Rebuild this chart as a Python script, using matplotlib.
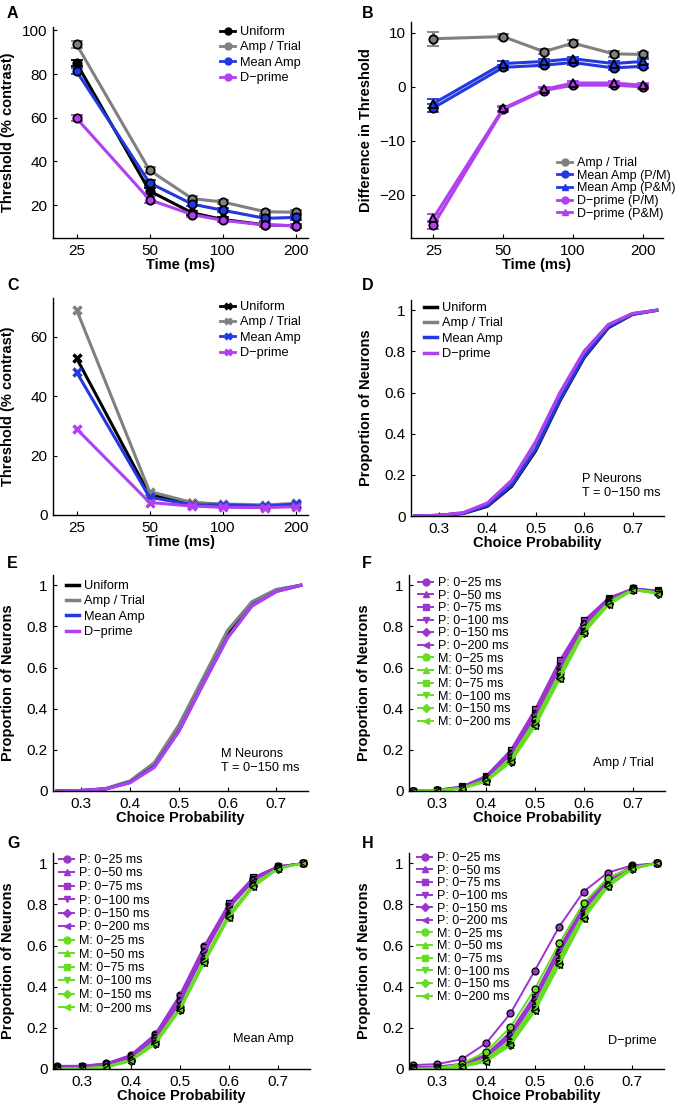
import numpy as np
import matplotlib
matplotlib.use('Agg')
import matplotlib.pyplot as plt
from matplotlib.lines import Line2D
from matplotlib.ticker import FuncFormatter, NullLocator

plt.rcParams['font.family'] = ['Liberation Sans', 'DejaVu Sans']
plt.rcParams['xtick.direction'] = 'in'
plt.rcParams['ytick.direction'] = 'in'
plt.rcParams['axes.linewidth'] = 1.0

# ---- data ----
times = [25, 50, 75, 100, 150, 200]
time_ticks = [25, 50, 100, 200]
methods = ['Uniform', 'Amp / Trial', 'Mean Amp', 'D\u2212prime']

# A: threshold (% contrast), error bars
thr_uniform = [85.0, 26.5, 16.5, 13.5, 11.0, 10.6]
thr_amp_trial = [93.6, 36.0, 23.0, 21.5, 17.0, 16.8]
thr_mean_amp = [81.3, 30.2, 20.5, 17.7, 14.0, 14.4]
thr_dprime = [59.8, 22.5, 15.7, 13.1, 10.9, 10.6]
thr_err = [1.5, 1.5, 1.0, 1.0, 1.0, 1.0]

# B: difference in threshold
diff_amp_trial = [8.9, 9.3, 6.5, 8.1, 6.1, 6.0]
diff_amp_trial_err = [1.3, 0.5, 0.5, 0.5, 0.5, 0.5]
diff_mean_pm = [-3.9, 3.6, 4.0, 4.5, 3.5, 3.8]
diff_mean_pandm = [-3.1, 4.3, 4.7, 5.2, 4.3, 4.7]
diff_dprime_pm = [-25.6, -4.2, -0.7, 0.3, 0.3, 0.0]
diff_dprime_pandm = [-24.3, -4.0, -0.5, 0.7, 0.7, 0.3]
diff_err = [0.8, 0.4, 0.4, 0.4, 0.4, 0.4]
b_labels = ['Amp / Trial', 'Mean Amp (P/M)', 'Mean Amp (P&M)',
            'D\u2212prime (P/M)', 'D\u2212prime (P&M)']

# C: threshold, second model
c_uniform = [52.8, 6.7, 4.2, 3.4, 3.0, 3.4]
c_amp_trial = [69.1, 7.9, 4.2, 3.7, 3.4, 3.9]
c_mean_amp = [48.1, 6.0, 3.4, 3.4, 3.0, 3.6]
c_dprime = [29.0, 4.2, 3.0, 2.6, 2.5, 2.8]

# D / E: cumulative choice probability
cp = [0.25, 0.30, 0.35, 0.40, 0.45, 0.50, 0.55, 0.60, 0.65, 0.70, 0.75]
d_uniform = [0, 0.003, 0.012, 0.047, 0.144, 0.318, 0.56, 0.77, 0.915, 0.98, 1.0]
d_amp_trial = [0, 0.003, 0.015, 0.06, 0.17, 0.355, 0.595, 0.80, 0.93, 0.984, 1.0]
d_mean_amp = [0, 0.003, 0.013, 0.05, 0.15, 0.325, 0.565, 0.775, 0.918, 0.981, 1.0]
d_dprime = [0, 0.003, 0.016, 0.063, 0.173, 0.362, 0.60, 0.80, 0.93, 0.984, 1.0]

e_uniform = [0, 0.002, 0.01, 0.045, 0.13, 0.305, 0.54, 0.765, 0.91, 0.975, 1.0]
e_amp_trial = [0, 0.002, 0.012, 0.049, 0.138, 0.32, 0.55, 0.78, 0.92, 0.98, 1.0]
e_mean_amp = [0, 0.002, 0.01, 0.042, 0.12, 0.29, 0.52, 0.745, 0.90, 0.97, 1.0]
e_dprime = [0, 0.002, 0.01, 0.04, 0.115, 0.29, 0.52, 0.745, 0.90, 0.97, 1.0]

# F-H: per time window, P and M neurons
windows = ['0\u221225', '0\u221250', '0\u221275', '0\u2212100', '0\u2212150', '0\u2212200']

f_p = [
    [0, 0.005, 0.02, 0.07, 0.18, 0.37, 0.60, 0.81, 0.93, 0.985, 0.97],
    [0, 0.005, 0.02, 0.07, 0.19, 0.39, 0.62, 0.82, 0.935, 0.985, 0.97],
    [0, 0.006, 0.022, 0.075, 0.20, 0.40, 0.635, 0.83, 0.94, 0.985, 0.975],
    [0, 0.005, 0.02, 0.068, 0.185, 0.38, 0.61, 0.815, 0.932, 0.985, 0.97],
    [0, 0.005, 0.018, 0.065, 0.18, 0.37, 0.60, 0.81, 0.93, 0.983, 0.965],
    [0, 0.004, 0.018, 0.063, 0.175, 0.36, 0.595, 0.80, 0.928, 0.983, 0.965],
]
f_m = [
    [0, 0.003, 0.015, 0.055, 0.16, 0.345, 0.575, 0.79, 0.92, 0.98, 0.965],
    [0, 0.003, 0.014, 0.052, 0.155, 0.335, 0.565, 0.785, 0.918, 0.98, 0.965],
    [0, 0.003, 0.014, 0.05, 0.15, 0.33, 0.56, 0.78, 0.915, 0.978, 0.965],
    [0, 0.002, 0.012, 0.048, 0.145, 0.325, 0.555, 0.775, 0.912, 0.978, 0.96],
    [0, 0.002, 0.012, 0.047, 0.142, 0.32, 0.55, 0.77, 0.91, 0.978, 0.96],
    [0, 0.002, 0.011, 0.045, 0.14, 0.315, 0.545, 0.77, 0.905, 0.976, 0.96],
]
g_p = [
    [0.015, 0.016, 0.027, 0.068, 0.17, 0.36, 0.60, 0.80, 0.93, 0.985, 1.0],
    [0.012, 0.014, 0.025, 0.065, 0.165, 0.35, 0.59, 0.80, 0.93, 0.985, 1.0],
    [0.012, 0.014, 0.025, 0.065, 0.165, 0.355, 0.595, 0.805, 0.932, 0.985, 1.0],
    [0.01, 0.012, 0.022, 0.06, 0.155, 0.335, 0.575, 0.79, 0.925, 0.983, 1.0],
    [0.01, 0.012, 0.022, 0.06, 0.15, 0.33, 0.57, 0.785, 0.92, 0.983, 1.0],
    [0.008, 0.01, 0.02, 0.055, 0.145, 0.32, 0.56, 0.78, 0.915, 0.982, 1.0],
]
g_m = [
    [0.002, 0.003, 0.012, 0.045, 0.135, 0.30, 0.535, 0.755, 0.90, 0.977, 1.0],
    [0.001, 0.002, 0.01, 0.043, 0.13, 0.295, 0.53, 0.75, 0.895, 0.976, 1.0],
    [0.001, 0.002, 0.01, 0.042, 0.128, 0.293, 0.527, 0.748, 0.893, 0.975, 1.0],
    [0, 0.001, 0.008, 0.04, 0.125, 0.29, 0.52, 0.742, 0.89, 0.975, 1.0],
    [0, 0.001, 0.008, 0.04, 0.122, 0.287, 0.518, 0.74, 0.888, 0.974, 1.0],
    [0, 0.001, 0.007, 0.038, 0.12, 0.285, 0.515, 0.735, 0.885, 0.973, 1.0],
]
h_p = [
    [0.019, 0.024, 0.047, 0.125, 0.27, 0.478, 0.692, 0.862, 0.955, 0.99, 1.0],
    [0.01, 0.012, 0.025, 0.07, 0.18, 0.36, 0.59, 0.79, 0.925, 0.985, 1.0],
    [0.008, 0.01, 0.022, 0.065, 0.175, 0.35, 0.58, 0.785, 0.92, 0.985, 1.0],
    [0.006, 0.008, 0.02, 0.06, 0.165, 0.34, 0.57, 0.78, 0.918, 0.984, 1.0],
    [0.005, 0.007, 0.018, 0.058, 0.16, 0.335, 0.565, 0.775, 0.915, 0.983, 1.0],
    [0.005, 0.006, 0.017, 0.055, 0.155, 0.33, 0.56, 0.77, 0.912, 0.983, 1.0],
]
h_m = [
    [0.002, 0.004, 0.025, 0.084, 0.203, 0.389, 0.611, 0.806, 0.93, 0.98, 1.0],
    [0.001, 0.002, 0.015, 0.05, 0.14, 0.31, 0.54, 0.755, 0.90, 0.975, 1.0],
    [0, 0.002, 0.012, 0.045, 0.13, 0.30, 0.525, 0.745, 0.895, 0.975, 1.0],
    [0, 0.001, 0.01, 0.04, 0.12, 0.29, 0.515, 0.74, 0.89, 0.973, 1.0],
    [0, 0.001, 0.01, 0.038, 0.118, 0.285, 0.51, 0.735, 0.888, 0.972, 1.0],
    [0, 0.001, 0.009, 0.036, 0.115, 0.28, 0.505, 0.73, 0.885, 0.972, 1.0],
]

# ---- styles ----
col = ['#000000', '#808080', '#2238E0', '#B040F0']
col_p = '#9A35D0'
col_m = '#66DD22'
win_markers = ['o', '^', 's', 'v', 'D', '<']

W, H = 679, 1108
fig = plt.figure(figsize=(W / 100, H / 100), dpi=100)


def box(l, t, r, b):
    return fig.add_axes([l / W, 1 - b / H, (r - l) / W, (b - t) / H])


def style(ax, l, t, r, b, xlabel, ylabel):
    for s in ['top', 'right']:
        ax.spines[s].set_visible(False)
    ax.tick_params(labelsize=11, length=3, width=0.8, pad=4)
    ax.set_xlabel(xlabel, fontsize=10.5, fontweight='bold')
    ax.set_ylabel(ylabel, fontsize=10.5, fontweight='bold')
    ax.yaxis.set_label_coords(-38 / (r - l), 0.5)
    ax.xaxis.set_label_coords(0.5, -20 / (b - t))


def time_axis(ax, right=225):
    ax.set_xscale('log')
    ax.set_xlim(20, right)
    ax.set_xticks(time_ticks)
    ax.set_xticklabels([str(t) for t in time_ticks])
    ax.xaxis.set_minor_locator(NullLocator())


def cp_axis(ax):
    ax.set_xlim(0.242, 0.765)
    ax.set_ylim(0, 1.05)
    ax.set_xticks([0.3, 0.4, 0.5, 0.6, 0.7])
    ax.set_yticks([0, 0.2, 0.4, 0.6, 0.8, 1.0])
    fmt = FuncFormatter(lambda v, p: '%g' % round(v, 2))
    ax.xaxis.set_major_formatter(fmt)
    ax.yaxis.set_major_formatter(fmt)


def legend_at(ax, handles, labels, x, y, fs=9.2, spacing=0.27, hl=1.2):
    ax.legend(handles, labels, loc='upper left', bbox_to_anchor=(x / W, 1 - y / H),
              bbox_transform=fig.transFigure, frameon=False, fontsize=fs,
              borderpad=0, borderaxespad=0, labelspacing=spacing,
              handlelength=hl, handletextpad=0.4)


def letter(x, y, s):
    fig.text(x / W, 1 - y / H, s, fontsize=11.5, fontweight='bold', va='center', ha='left')


# ---- A ----
pa = (53, 27, 308, 238)
ax = box(*pa)
for vals, c in zip([thr_uniform, thr_amp_trial, thr_mean_amp, thr_dprime], col):
    ax.errorbar(times, vals, yerr=thr_err, color=c, lw=2.2, marker='o', ms=6,
                mfc=c, mec='k', mew=1.3, capsize=4, capthick=2, elinewidth=2.2)
time_axis(ax)
ax.set_ylim(5, 101.5)
ax.set_yticks([20, 40, 60, 80, 100])
style(ax, *pa, 'Time (ms)', 'Threshold (% contrast)')
hs = [Line2D([], [], color=c, marker='o', ms=5, mfc=c, mec=c, lw=2) for c in col]
legend_at(ax, hs, methods, 220, 26)
letter(7, 13, 'A')

# ---- B ----
pb = (411, 22, 663, 238)
ax = box(*pb)
ax.errorbar(times, diff_amp_trial, yerr=diff_amp_trial_err, color=col[1], lw=2.2,
            marker='o', ms=6, mfc=col[1], mec='k', mew=1.3, capsize=4, capthick=2)
b_series = [(diff_mean_pm, col[2], 'o'), (diff_mean_pandm, col[2], '^'),
            (diff_dprime_pm, col[3], 'o'), (diff_dprime_pandm, col[3], '^')]
for vals, c, m in b_series:
    ax.errorbar(times, vals, yerr=diff_err, color=c, lw=2.2, marker=m, ms=6,
                mfc=c, mec='k', mew=1.3, capsize=4, capthick=2)
time_axis(ax, right=245)
ax.set_ylim(-28, 12)
ax.set_yticks([-20, -10, 0, 10])
style(ax, *pb, 'Time (ms)', 'Difference in Threshold')
hs = [Line2D([], [], color=col[1], marker='o', ms=5, mfc=col[1], mec=col[1], lw=2)]
hs += [Line2D([], [], color=c, marker=m, ms=5, mfc=c, mec=c, lw=2) for _, c, m in b_series]
legend_at(ax, hs, b_labels, 557, 157, fs=9, spacing=0.05)
letter(362, 13, 'B')

# ---- C ----
pc = (53, 298, 308, 515)
ax = box(*pc)
for vals, c in zip([c_uniform, c_amp_trial, c_mean_amp, c_dprime], col):
    ax.plot(times, vals, color=c, lw=2.2, marker='x', ms=6, mew=2.5)
time_axis(ax)
ax.set_ylim(0, 73)
ax.set_yticks([0, 20, 40, 60])
style(ax, *pc, 'Time (ms)', 'Threshold (% contrast)')
hs = [Line2D([], [], color=c, marker='x', ms=5, mew=2.2, lw=2) for c in col]
legend_at(ax, hs, methods, 220, 301)
letter(7, 286, 'C')

# ---- D ----
pd = (411, 300, 664, 516)
ax = box(*pd)
for vals, c in zip([d_uniform, d_amp_trial, d_mean_amp, d_dprime], col):
    ax.plot(cp, vals, color=c, lw=2.3)
cp_axis(ax)
style(ax, *pd, 'Choice Probability', 'Proportion of Neurons')
hs = [Line2D([], [], color=c, lw=2.5) for c in col]
legend_at(ax, hs, methods, 424, 302, hl=1.0)
ax.text(0.675, 0.2, 'P Neurons\nT = 0\u2212150 ms', transform=ax.transAxes,
        fontsize=9.2, va='top', ha='left', linespacing=1.2)
letter(362, 286, 'D')

# ---- E ----
pe = (53, 575, 308, 791)
ax = box(*pe)
for vals, c in zip([e_uniform, e_amp_trial, e_mean_amp, e_dprime], col):
    ax.plot(cp, vals, color=c, lw=2.3)
cp_axis(ax)
style(ax, *pe, 'Choice Probability', 'Proportion of Neurons')
hs = [Line2D([], [], color=c, lw=2.5) for c in col]
legend_at(ax, hs, methods, 66, 580, hl=1.0)
ax.text(0.66, 0.2, 'M Neurons\nT = 0\u2212150 ms', transform=ax.transAxes,
        fontsize=9.2, va='top', ha='left', linespacing=1.2)
letter(7, 563, 'E')


# ---- F, G, H ----
def window_panel(pos, p_vals, m_vals, note, note_xy, leg_xy, spacing, let_xy, let):
    ax = box(*pos)
    for vals, m in zip(p_vals, win_markers):
        ax.plot(cp, vals, color=col_p, lw=1.4, marker=m, ms=5 if m != 'D' else 4,
                mfc=col_p, mec='k', mew=0.9)
    for vals, m in zip(m_vals, win_markers):
        ax.plot(cp, vals, color=col_m, lw=1.4, marker=m, ms=5 if m != 'D' else 4,
                mfc=col_m, mec='k', mew=0.9)
    cp_axis(ax)
    style(ax, *pos, 'Choice Probability', 'Proportion of Neurons')
    hs, labs = [], []
    for grp, c in [('P', col_p), ('M', col_m)]:
        for w, m in zip(windows, win_markers):
            hs.append(Line2D([], [], color=c, lw=1.4, marker=m, ms=5 if m != 'D' else 4,
                             mfc=c, mec=c))
            labs.append('%s: %s ms' % (grp, w))
    legend_at(ax, hs, labs, leg_xy[0], leg_xy[1], fs=9, spacing=spacing, hl=1.2)
    ax.text(note_xy[0], note_xy[1], note, transform=ax.transAxes, fontsize=9.2,
            ha='left', va='center')
    letter(let_xy[0], let_xy[1], let)


window_panel((409, 575, 665, 791), f_p, f_m, 'Amp / Trial', (0.72, 0.13),
             (418, 577), 0.05, (362, 563), 'F')
window_panel((53, 853, 310, 1069), g_p, g_m, 'Mean Amp', (0.70, 0.14),
             (59, 854), 0.12, (7, 843), 'G')
window_panel((409, 853, 664, 1069), h_p, h_m, 'D\u2212prime', (0.78, 0.13),
             (417, 852), 0.05, (362, 843), 'H')

fig.savefig('out.png', dpi=100)
